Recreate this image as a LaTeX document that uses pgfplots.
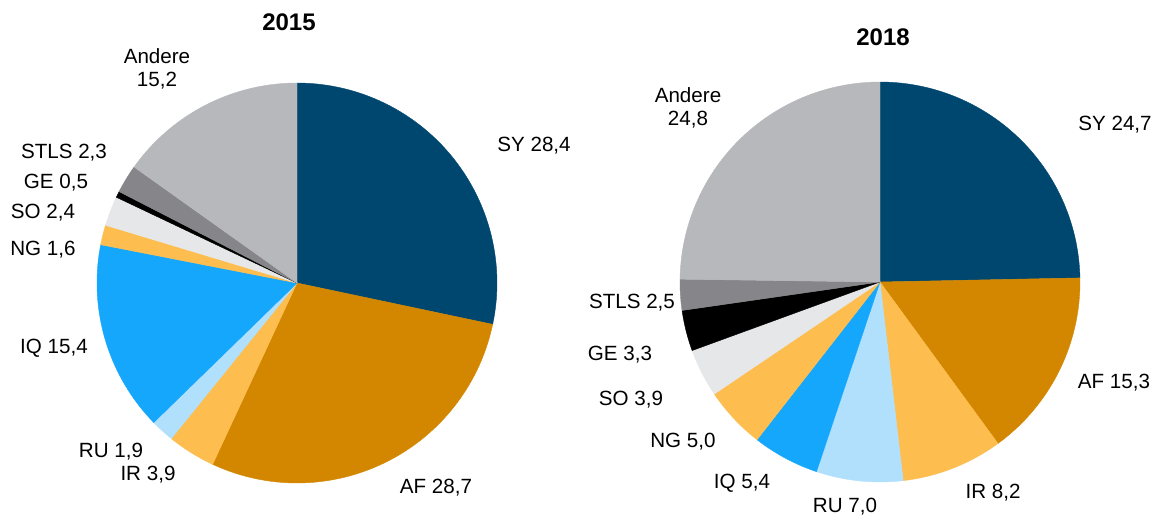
\documentclass[border=0pt]{standalone}
\usepackage{fontspec}
\setmainfont{Liberation Sans}
\usepackage{pgfplots}
\usepackage{pgfplotstable}
\pgfplotsset{compat=1.18}

\definecolor{cSY}{HTML}{00476F}
\definecolor{cAF}{HTML}{D38700}
\definecolor{cIR}{HTML}{FDBD4F}
\definecolor{cRU}{HTML}{B1E0FC}
\definecolor{cIQ}{HTML}{14A7FC}
\definecolor{cNG}{HTML}{FDBD4F}
\definecolor{cSO}{HTML}{E6E7E8}
\definecolor{cGE}{HTML}{000000}
\definecolor{cSTLS}{HTML}{86868A}
\definecolor{cAnd}{HTML}{B7B8BC}

% shares in percent, clockwise from 12 o'clock
\pgfplotstableread{
name   value color
SY     28.4  cSY
AF     28.7  cAF
IR     3.9   cIR
RU     1.9   cRU
IQ     15.4  cIQ
NG     1.6   cNG
SO     2.4   cSO
GE     0.5   cGE
STLS   2.3   cSTLS
Andere 15.2  cAnd
}\pieA

\pgfplotstableread{
name   value color
SY     24.7  cSY
AF     15.3  cAF
IR     8.2   cIR
RU     7.0   cRU
IQ     5.4   cIQ
NG     5.0   cNG
SO     3.9   cSO
GE     3.3   cGE
STLS   2.5   cSTLS
Andere 24.8  cAnd
}\pieB

% #1 table, #2 centre x, #3 centre y (pixels, y downwards)
\newcommand\drawpie[3]{%
  \pgfplotstablegetrowsof{#1}%
  \pgfmathtruncatemacro\nrows{\pgfplotsretval-1}%
  \def\piesum{0}%
  \pgfplotsforeachungrouped \i in {0,...,\nrows}{%
    \pgfplotstablegetelem{\i}{value}\of{#1}%
    \pgfmathsetmacro\piesum{\piesum+\pgfplotsretval}%
  }%
  \def\startA{90}%
  \pgfplotsforeachungrouped \i in {0,...,\nrows}{%
    \pgfplotstablegetelem{\i}{value}\of{#1}%
    \pgfmathsetmacro\endA{\startA-360*\pgfplotsretval/\piesum}%
    \pgfplotstablegetelem{\i}{color}\of{#1}%
    \let\col\pgfplotsretval
    \edef\cmd{\noexpand\addplot[fill=\col, draw=\col, line width=0.2pt,
        domain=\endA:\startA, samples=60, variable=\noexpand\t]
      ({#2+200*cos(\noexpand\t)},{#3-200*sin(\noexpand\t)})
      -- (axis cs:#2,#3) -- cycle;}%
    \cmd
    \global\let\startA\endA
  }%
}

\begin{document}
\begin{tikzpicture}
\begin{axis}[
    x=0.5pt, y=0.5pt,
    xmin=0, xmax=1157,
    ymin=0, ymax=517,
    y dir=reverse,
    hide axis,
    clip=false,
    scale only axis,
]
\path (axis cs:0,0) rectangle (axis cs:1157,517);

\drawpie{\pieA}{297}{283}
\drawpie{\pieB}{880}{282}

\begin{scope}[every node/.style={font=\fontsize{10.3}{11.6}\selectfont, inner sep=0pt, align=center}]
% 2015
\node[font=\bfseries\fontsize{12}{14}\selectfont] at (axis cs:289,22) {2015};
\node at (axis cs:157,69) {Andere\\15,2};
\node[anchor=west] at (axis cs:497,146) {SY 28,4};
\node at (axis cs:436,488) {AF 28,7};
\node at (axis cs:148,475) {IR 3,9};
\node at (axis cs:111,452) {RU 1,9};
\node at (axis cs:54,348) {IQ 15,4};
\node at (axis cs:43,250) {NG 1,6};
\node at (axis cs:43,213) {SO 2,4};
\node at (axis cs:56,183) {GE 0,5};
\node at (axis cs:64,153) {STLS 2,3};
% 2018
\node[font=\bfseries\fontsize{12}{14}\selectfont] at (axis cs:883,37) {2018};
\node at (axis cs:688,108) {Andere\\24,8};
\node at (axis cs:1115,125) {SY 24,7};
\node at (axis cs:1114,383) {AF 15,3};
\node at (axis cs:993,493) {IR 8,2};
\node at (axis cs:845,507) {RU 7,0};
\node at (axis cs:742,483) {IQ 5,4};
\node at (axis cs:683,442) {NG 5,0};
\node at (axis cs:631,400) {SO 3,9};
\node at (axis cs:620,355) {GE 3,3};
\node at (axis cs:632,303) {STLS 2,5};
\end{scope}
\end{axis}
\end{tikzpicture}
\end{document}
